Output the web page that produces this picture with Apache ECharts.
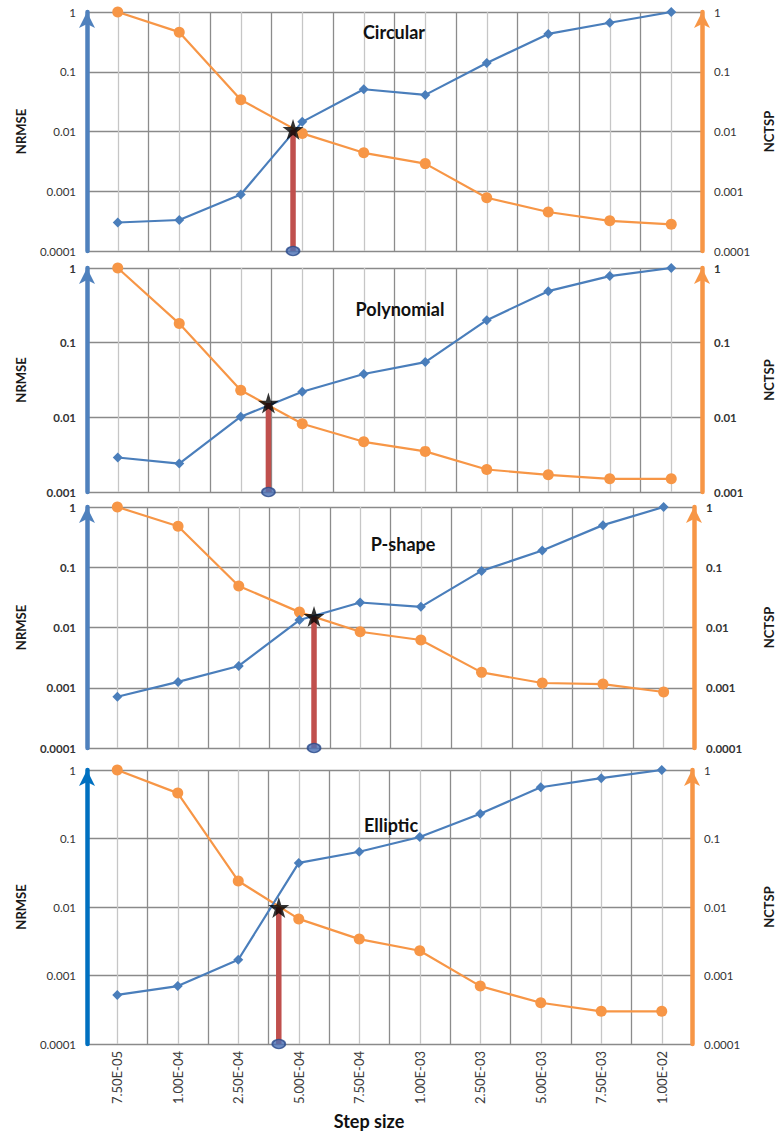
<!DOCTYPE html>
<html>
<head>
<meta charset="utf-8">
<title>NRMSE and NCTSP versus step size</title>
<script src="https://cdn.jsdelivr.net/npm/echarts@6/dist/echarts.min.js"></script>
<style>
  html, body { margin: 0; padding: 0; background: #ffffff; }
  #chart { width: 783px; height: 1138px; }
</style>
</head>
<body>
<div id="chart"></div>
<script>
// Step sizes along the shared horizontal axis
const stepSizes = ['7.50E-05', '1.00E-04', '2.50E-04', '5.00E-04', '7.50E-04',
                   '1.00E-03', '2.50E-03', '5.00E-03', '7.50E-03', '1.00E-02'];

// Trajectory shapes, one panel each
const shapes = ['Circular', 'Polynomial', 'P-shape', 'Elliptic'];

// Normalised RMSE per step size
const nrmseCircular   = [0.0003, 0.00033, 0.00088, 0.0145, 0.051, 0.041, 0.14, 0.43, 0.66, 1.0];
const nrmsePolynomial = [0.0029, 0.0024, 0.0102, 0.022, 0.038, 0.055, 0.2, 0.49, 0.78, 1.0];
const nrmsePShape     = [0.00071, 0.00125, 0.0023, 0.0133, 0.026, 0.022, 0.087, 0.19, 0.5, 1.0];
const nrmseElliptic   = [0.00052, 0.0007, 0.0017, 0.044, 0.064, 0.105, 0.23, 0.56, 0.76, 1.0];

// Normalised computation time per simulation point
const nctspCircular   = [1.0, 0.46, 0.034, 0.0093, 0.0044, 0.0029, 0.00078, 0.00045, 0.00032, 0.00028];
const nctspPolynomial = [1.0, 0.18, 0.023, 0.0082, 0.0047, 0.0035, 0.002, 0.0017, 0.0015, 0.0015];
const nctspPShape     = [1.0, 0.48, 0.049, 0.018, 0.0085, 0.0062, 0.0018, 0.0012, 0.00115, 0.00085];
const nctspElliptic   = [1.0, 0.46, 0.024, 0.0067, 0.0034, 0.0023, 0.0007, 0.0004, 0.0003, 0.0003];

// Crossing point of the two curves (position in step-size index units, value)
const crossIndex = [2.85, 2.45, 3.24, 2.67];
const crossValue = [0.0108, 0.0155, 0.0152, 0.0098];

// Lower end of each panel's logarithmic axis
const axisMin = [0.0001, 0.001, 0.0001, 0.0001];

const nrmseSeries = [nrmseCircular, nrmsePolynomial, nrmsePShape, nrmseElliptic];
const nctspSeries = [nctspCircular, nctspPolynomial, nctspPShape, nctspElliptic];

// Panel layout
const panelTop    = [12, 268, 507, 770];
const panelHeight = [239, 224, 241, 274];
const titlePos    = [[394, 23], [400, 300], [403, 535], [391, 816]];
const boldTicks   = [false, true, true, false];
const leftColors  = ['#4f81bd', '#4f81bd', '#4f81bd', '#0070c0'];
const rightGap    = [60, 60, 68, 70];

const BLUE = '#4a7ebb';
const ORANGE = '#f79646';
const FONT = 'Lato, "Open Sans", sans-serif';
const STAR = 'path://M50,0 L61.2,34.5 L97.6,34.5 L68.2,55.9 L79.4,90.5 L50,69.1 L20.6,90.5 L31.8,55.9 L2.4,34.5 L38.8,34.5 Z';

const logLabel = v => String(Number(v.toPrecision(1)));

const grid = [], xAxis = [], yAxis = [], series = [], title = [];

shapes.forEach((shape, i) => {
  grid.push({ left: 87, right: 81, top: panelTop[i], height: panelHeight[i] });

  title.push({
    text: shape, left: titlePos[i][0], top: titlePos[i][1], padding: 0,
    textAlign: 'center',
    textStyle: { fontSize: 18, fontWeight: 'bold', color: '#111', fontFamily: FONT }
  });

  xAxis.push({
    type: 'value', gridIndex: i, min: -0.5, max: 9.5, interval: 0.5,
    axisLine: { show: false, onZero: false }, axisTick: { show: false },
    axisLabel: i === 3 ? {
      show: true, rotate: 90, margin: 7, fontSize: 13, color: '#3a3a3a', fontFamily: FONT,
      formatter: v => (Number.isInteger(v) && v >= 0 && v < stepSizes.length) ? stepSizes[v] : ''
    } : { show: false },
    splitLine: { show: true, lineStyle: { color: ['#8c8c8c', '#c6c6c6'], width: 1.3 } }
  });

  const tickStyle = {
    formatter: logLabel, fontSize: 11.5, color: '#333', fontFamily: FONT,
    fontWeight: boldTicks[i] ? 'bold' : 'normal'
  };

  yAxis.push({
    type: 'log', gridIndex: i, position: 'left', min: axisMin[i], max: 1,
    axisLine: {
      show: true, onZero: false, symbol: ['none', 'arrow'], symbolSize: [12, 16],
      lineStyle: { color: leftColors[i], width: 4.5 }
    },
    axisTick: { show: false },
    axisLabel: Object.assign({ margin: 11 }, tickStyle),
    splitLine: { show: true, lineStyle: { color: '#8a8a8a', width: 1.4 } },
    name: 'NRMSE', nameLocation: 'middle', nameGap: 60,
    nameTextStyle: { fontSize: 13, fontWeight: 'bold', color: '#1a1a1a', fontFamily: FONT }
  });

  yAxis.push({
    type: 'log', gridIndex: i, position: 'right', min: axisMin[i], max: 1,
    axisLine: {
      show: true, onZero: false, symbol: ['none', 'arrow'], symbolSize: [12, 16],
      lineStyle: { color: ORANGE, width: 4.5 }
    },
    axisTick: { show: false },
    axisLabel: Object.assign({ margin: 12 }, tickStyle),
    splitLine: { show: false },
    name: 'NCTSP', nameLocation: 'middle', nameGap: rightGap[i],
    nameTextStyle: { fontSize: 13, fontWeight: 'bold', color: '#1a1a1a', fontFamily: FONT }
  });

  series.push({
    name: 'NCTSP', type: 'line', xAxisIndex: i, yAxisIndex: 2 * i + 1,
    data: nctspSeries[i].map((v, k) => [k, v]),
    symbol: 'circle', symbolSize: 11, z: 3,
    itemStyle: { color: ORANGE }, lineStyle: { color: ORANGE, width: 2.2 }
  });

  series.push({
    name: 'NRMSE', type: 'line', xAxisIndex: i, yAxisIndex: 2 * i,
    data: nrmseSeries[i].map((v, k) => [k, v]),
    symbol: 'diamond', symbolSize: 10, z: 4,
    itemStyle: { color: BLUE }, lineStyle: { color: BLUE, width: 2.2 }
  });

  // Drop line from the crossing point to the bottom of the panel
  series.push({
    type: 'line', xAxisIndex: i, yAxisIndex: 2 * i,
    data: [[crossIndex[i], axisMin[i]], [crossIndex[i], crossValue[i]]],
    symbol: 'none', z: 5,
    lineStyle: { color: '#c0504d', width: 5.5 }
  });

  series.push({
    type: 'scatter', xAxisIndex: i, yAxisIndex: 2 * i, clip: false,
    data: [[crossIndex[i], axisMin[i]]],
    symbol: 'circle', symbolSize: [13, 9], z: 6,
    itemStyle: { color: '#4a6fb5', borderColor: '#2b4a8a', borderWidth: 1.5 }
  });

  series.push({
    type: 'scatter', xAxisIndex: i, yAxisIndex: 2 * i,
    data: [[crossIndex[i], crossValue[i]]],
    symbol: STAR, symbolSize: 21, z: 7,
    itemStyle: { color: '#000000' }
  });
});

title.push({
  text: 'Step size', left: 369, top: 1112, padding: 0,
  textAlign: 'center',
  textStyle: { fontSize: 18, fontWeight: 'bold', color: '#111', fontFamily: FONT }
});

const chart = echarts.init(document.getElementById('chart'), null, { renderer: 'svg', width: 783, height: 1138 });
chart.setOption({
  animation: false,
  backgroundColor: '#ffffff',
  textStyle: { fontFamily: FONT },
  title, grid, xAxis, yAxis, series
});
</script>
</body>
</html>
